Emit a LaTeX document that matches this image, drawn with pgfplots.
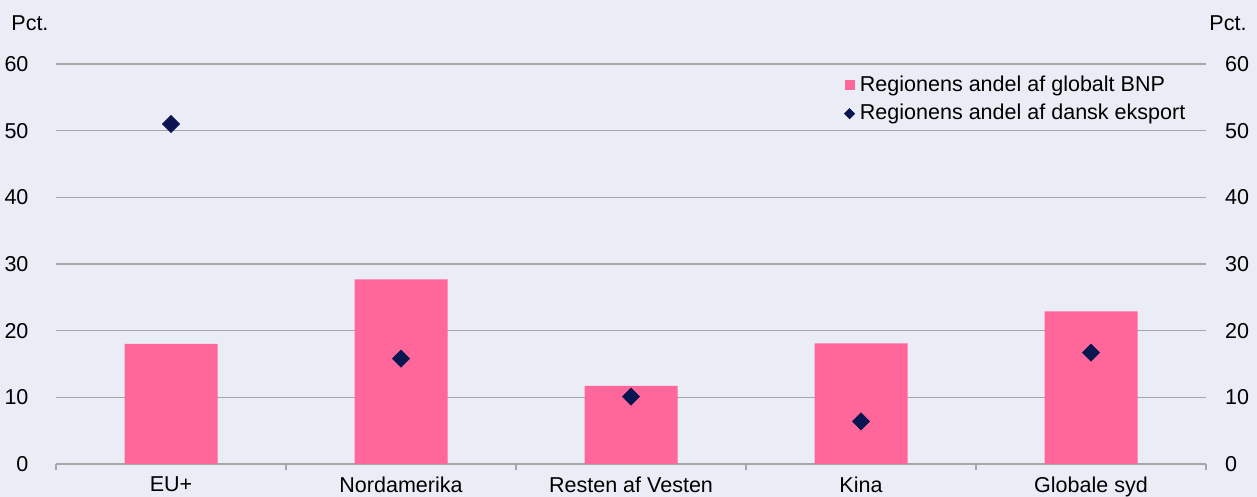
\documentclass[border=0pt]{standalone}
\usepackage{pgfplots}
\pgfplotsset{compat=1.18}
\usepackage{fontspec}
\setmainfont{Liberation Sans}
\definecolor{bg}{HTML}{EAEDF6}
\definecolor{barpink}{HTML}{FF6699}
\definecolor{navy}{HTML}{0B1650}
\definecolor{gridgray}{HTML}{A6A6A6}
\newcommand{\lbl}{\fontsize{10.8}{12.9}\selectfont}
\begin{document}
\begin{tikzpicture}
\fill[bg] (-28bp,-16.5bp) rectangle (600.5bp,232bp);
\begin{axis}[
  at={(0,0)}, anchor=south west,
  scale only axis, width=575bp, height=200bp,
  xmin=-0.5, xmax=4.5, ymin=0, ymax=60,
  axis lines*=left,
  x axis line style={draw=gridgray, line width=0.6bp, -},
  y axis line style={draw=none},
  ytick={0,10,...,60},
  ytick style={draw=none},
  ymajorgrids,
  grid style={draw=gridgray, line width=0.6bp},
  xtick={0,1,2,3,4},
  xticklabels={EU+, Nordamerika, Resten af Vesten, Kina, Globale syd},
  major x tick style={draw=none},
  minor xtick={-0.5,0.5,1.5,2.5,3.5,4.5},
  minor x tick style={draw=gridgray, line width=0.6bp},
  minor tick length=3bp,
  tick align=outside,
  /pgf/number format/assume math mode=true,
  tick label style={font=\lbl},
  yticklabel style={xshift=-6bp},
  xticklabel style={yshift=1.5bp},
  legend style={draw=none, fill=none, at={(0.685,0.978)}, anchor=north west,
    inner sep=0pt, row sep=2.7bp, font=\lbl, nodes={inner sep=1.2bp}},
  legend cell align=left,
]
\addplot[ybar, bar width=46.5bp, bar shift=0pt, fill=barpink, draw=none,
  legend image code/.code={\fill[barpink] (0bp,-2.5bp) rectangle (5bp,2.5bp);\path (6.3bp,0bp);}]
  coordinates {(0,18.0) (1,27.7) (2,11.7) (3,18.1) (4,22.9)};
\addlegendentry{Regionens andel af globalt BNP}
\addplot[only marks, mark=square*, mark size=3bp, mark options={rotate=45, fill=navy, draw=navy},
  legend image code/.code={\fill[navy] (2.5bp,-2.5bp) -- (5bp,0bp) -- (2.5bp,2.5bp) -- (0bp,0bp) -- cycle;\path (6.3bp,0bp);}]
  coordinates {(0,51.0) (1,15.8) (2,10.1) (3,6.4) (4,16.7)};
\addlegendentry{Regionens andel af dansk eksport}
\end{axis}
\begin{axis}[
  at={(0,0)}, anchor=south west,
  scale only axis, width=575bp, height=200bp,
  xmin=-0.5, xmax=4.5, ymin=0, ymax=60,
  hide x axis,
  axis y line*=right,
  y axis line style={draw=none},
  ytick={0,10,...,60},
  ytick style={draw=none},
  /pgf/number format/assume math mode=true,
  tick label style={font=\lbl},
  yticklabel style={xshift=6bp},
]
\end{axis}
\node[anchor=west, inner sep=0pt, font=\lbl] at (-22.5bp,220.5bp) {Pct.};
\node[anchor=west, inner sep=0pt, font=\lbl] at (576.5bp,220.5bp) {Pct.};
\pgfresetboundingbox
\useasboundingbox (-28bp,-16.5bp) rectangle (600.5bp,232bp);
\end{tikzpicture}
\end{document}
